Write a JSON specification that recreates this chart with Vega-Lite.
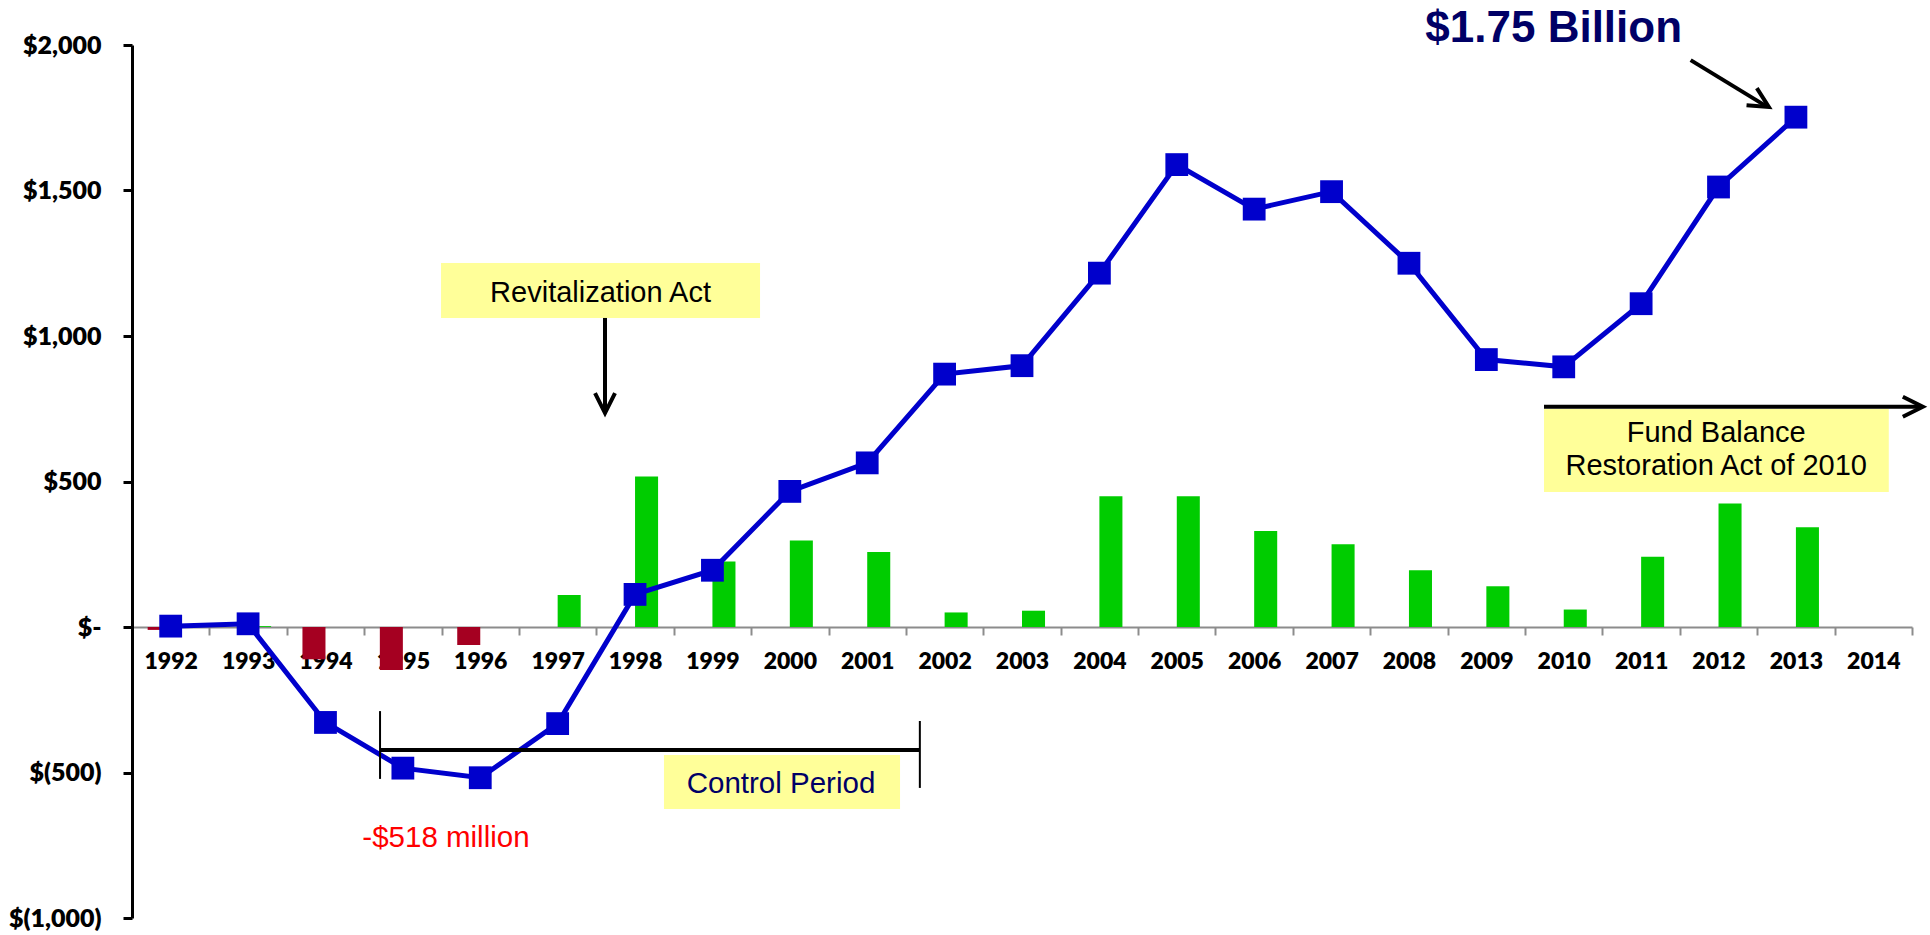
{
  "$schema": "https://vega.github.io/schema/vega-lite/v6.json",
  "width": 1780,
  "height": 873,
  "autosize": {"type": "none"},
  "padding": {"left": 132, "top": 45, "right": 18, "bottom": 17},
  "background": "white",
  "config": {"view": {"stroke": null}},
  "datasets": {
    "flows": [
      {"year": "1992", "kind": "Deficit", "value": -10},
      {"year": "1993", "kind": "Surplus", "value": 3},
      {"year": "1994", "kind": "Deficit", "value": -111},
      {"year": "1995", "kind": "Deficit", "value": -148},
      {"year": "1996", "kind": "Deficit", "value": -62},
      {"year": "1997", "kind": "Surplus", "value": 110},
      {"year": "1998", "kind": "Surplus", "value": 517},
      {"year": "1999", "kind": "Surplus", "value": 225},
      {"year": "2000", "kind": "Surplus", "value": 297},
      {"year": "2001", "kind": "Surplus", "value": 258},
      {"year": "2002", "kind": "Surplus", "value": 50},
      {"year": "2003", "kind": "Surplus", "value": 56},
      {"year": "2004", "kind": "Surplus", "value": 449},
      {"year": "2005", "kind": "Surplus", "value": 449},
      {"year": "2006", "kind": "Surplus", "value": 330},
      {"year": "2007", "kind": "Surplus", "value": 284},
      {"year": "2008", "kind": "Surplus", "value": 195},
      {"year": "2009", "kind": "Surplus", "value": 140},
      {"year": "2010", "kind": "Surplus", "value": 60},
      {"year": "2011", "kind": "Surplus", "value": 241},
      {"year": "2012", "kind": "Surplus", "value": 424},
      {"year": "2013", "kind": "Surplus", "value": 343}
    ],
    "balance": [
      {"year": "1992", "balance": 3},
      {"year": "1993", "balance": 11},
      {"year": "1994", "balance": -328},
      {"year": "1995", "balance": -485},
      {"year": "1996", "balance": -518},
      {"year": "1997", "balance": -332},
      {"year": "1998", "balance": 112},
      {"year": "1999", "balance": 195},
      {"year": "2000", "balance": 466},
      {"year": "2001", "balance": 564},
      {"year": "2002", "balance": 869},
      {"year": "2003", "balance": 898},
      {"year": "2004", "balance": 1216},
      {"year": "2005", "balance": 1589},
      {"year": "2006", "balance": 1436},
      {"year": "2007", "balance": 1496},
      {"year": "2008", "balance": 1250},
      {"year": "2009", "balance": 919},
      {"year": "2010", "balance": 894},
      {"year": "2011", "balance": 1111},
      {"year": "2012", "balance": 1512},
      {"year": "2013", "balance": 1752}
    ]
  },
  "layer": [
    {
      "encoding": {
        "x": {
          "field": "year",
          "type": "ordinal",
          "scale": {
            "domain": ["1992","1993","1994","1995","1996","1997","1998","1999","2000","2001","2002","2003","2004","2005","2006","2007","2008","2009","2010","2011","2012","2013","2014"],
            "paddingInner": 0,
            "paddingOuter": 0
          },
          "axis": {
            "title": null,
            "orient": "bottom",
            "offset": -291,
            "tickBand": "extent",
            "ticks": true,
            "tickColor": "#8c8c8c",
            "tickSize": 8,
            "tickWidth": 2,
            "domainColor": "#8c8c8c",
            "domainWidth": 2,
            "labelAngle": 0,
            "labelFont": "Lato",
            "labelFontWeight": 800,
            "labelFontSize": 23,
            "labelColor": "black",
            "labelPadding": 15,
            "grid": false
          }
        },
        "y": {
          "field": "value",
          "type": "quantitative",
          "scale": {"domain": [-1000, 2000], "nice": false, "zero": false},
          "axis": {
            "title": null,
            "values": [-1000, -500, 0, 500, 1000, 1500, 2000],
            "labelExpr": "datum.value == 0 ? '$-\u00a0\u00a0\u00a0' : (datum.value < 0 ? '$(' + format(-datum.value, ',') + ')' : '$' + format(datum.value, ',') + '\u00a0')",
            "domainColor": "black",
            "domainWidth": 3,
            "tickColor": "black",
            "tickWidth": 3,
            "tickSize": 9,
            "labelFont": "Lato",
            "labelFontWeight": 800,
            "labelFontSize": 25,
            "labelColor": "black",
            "labelPadding": 22,
            "grid": false
          }
        }
      },
      "layer": [
        {
          "data": {"name": "flows"},
          "mark": {"type": "bar"},
          "encoding": {
            "xOffset": {
              "field": "kind",
              "type": "nominal",
              "scale": {"domain": ["Deficit", "Surplus"], "paddingInner": 0, "paddingOuter": 0.68}
            },
            "color": {
              "field": "kind",
              "type": "nominal",
              "scale": {"domain": ["Deficit", "Surplus"], "range": ["#A50021", "#00CC00"]},
              "legend": null
            }
          }
        },
        {
          "data": {"name": "balance"},
          "mark": {"type": "line", "color": "#0000CC", "strokeWidth": 5},
          "encoding": {
            "y": {"field": "balance", "type": "quantitative", "scale": {"domain": [-1000, 2000], "nice": false, "zero": false}, "title": null}
          }
        },
        {
          "data": {"name": "balance"},
          "mark": {"type": "point", "shape": "square", "filled": true, "size": 520, "color": "#0000CC", "opacity": 1},
          "encoding": {
            "y": {"field": "balance", "type": "quantitative", "scale": {"domain": [-1000, 2000], "nice": false, "zero": false}, "title": null}
          }
        }
      ]
    },
    {
      "encoding": {
        "x": {"field": "x", "type": "quantitative", "scale": {"domain": [1991.5, 2014.5], "nice": false, "zero": false}, "axis": null},
        "y": {"field": "y", "type": "quantitative", "scale": {"domain": [-1000, 2000], "nice": false, "zero": false}, "title": null}
      },
      "layer": [
        {
          "data": {"values": [
            {"x": 1995.493, "x2": 1999.615, "y": 1251, "y2": 1062},
            {"x": 1998.374, "x2": 2001.424, "y": -440, "y2": -625},
            {"x": 2009.745, "x2": 2014.2, "y": 749, "y2": 464}
          ]},
          "mark": {"type": "rect", "color": "#FFFF99"},
          "encoding": {"x2": {"field": "x2"}, "y2": {"field": "y2"}}
        },
        {
          "data": {"values": [
            {"x": 1994.705, "x2": 2001.68, "y": -423, "y2": -423},
            {"x": 1997.612, "x2": 1997.612, "y": 1062, "y2": 738},
            {"x": 2009.745, "x2": 2014.6, "y": 757, "y2": 757},
            {"x": 2011.64, "x2": 2012.62, "y": 1948, "y2": 1789}
          ]},
          "mark": {"type": "rule", "color": "black", "strokeWidth": 4},
          "encoding": {"x2": {"field": "x2"}, "y2": {"field": "y2"}}
        },
        {
          "data": {"values": [
            {"x": 1994.705, "x2": 1994.705, "y": -289, "y2": -522},
            {"x": 2001.68, "x2": 2001.68, "y": -323, "y2": -553}
          ]},
          "mark": {"type": "rule", "color": "black", "strokeWidth": 2},
          "encoding": {"x2": {"field": "x2"}, "y2": {"field": "y2"}}
        },
        {
          "data": {"values": [{"x": 1997.612, "y": 735}]},
          "mark": {"type": "point", "shape": "M -1 -0.5 L 0 0 L -1 0.5", "size": 1600, "filled": false, "stroke": "black", "strokeWidth": 4, "opacity": 1, "angle": 90},
          "encoding": {}
        },
        {
          "data": {"values": [{"x": 2014.64, "y": 757}]},
          "mark": {"type": "point", "shape": "M -1 -0.5 L 0 0 L -1 0.5", "size": 1600, "filled": false, "stroke": "black", "strokeWidth": 4, "opacity": 1, "angle": 0},
          "encoding": {}
        },
        {
          "data": {"values": [{"x": 2012.65, "y": 1787}]},
          "mark": {"type": "point", "shape": "M -1 -0.5 L 0 0 L -1 0.5", "size": 1600, "filled": false, "stroke": "black", "strokeWidth": 4, "opacity": 1, "angle": 31},
          "encoding": {}
        },
        {
          "data": {"values": [{"x": 2009.87, "y": 2010, "text": "$1.75 Billion"}]},
          "mark": {"type": "text", "font": "Liberation Sans", "fontWeight": "bold", "fontSize": 44, "color": "#000066", "baseline": "alphabetic", "align": "center"},
          "encoding": {"text": {"field": "text"}}
        },
        {
          "data": {"values": [
            {"x": 1997.554, "y": 1118, "text": "Revitalization Act"},
            {"x": 2011.97, "y": 637, "text": "Fund Balance"},
            {"x": 2011.97, "y": 522, "text": "Restoration Act of 2010"}
          ]},
          "mark": {"type": "text", "font": "Liberation Sans", "fontSize": 29, "color": "black", "baseline": "alphabetic", "align": "center"},
          "encoding": {"text": {"field": "text"}}
        },
        {
          "data": {"values": [{"x": 1999.886, "y": -570, "text": "Control Period"}]},
          "mark": {"type": "text", "font": "Liberation Sans", "fontSize": 29.5, "color": "#000066", "baseline": "alphabetic", "align": "center"},
          "encoding": {"text": {"field": "text"}}
        },
        {
          "data": {"values": [{"x": 1995.557, "y": -755, "text": "-$518 million"}]},
          "mark": {"type": "text", "font": "Liberation Sans", "fontSize": 29.5, "color": "#FF0000", "baseline": "alphabetic", "align": "center"},
          "encoding": {"text": {"field": "text"}}
        }
      ]
    }
  ],
  "resolve": {"scale": {"x": "independent"}, "axis": {"x": "independent"}}
}
